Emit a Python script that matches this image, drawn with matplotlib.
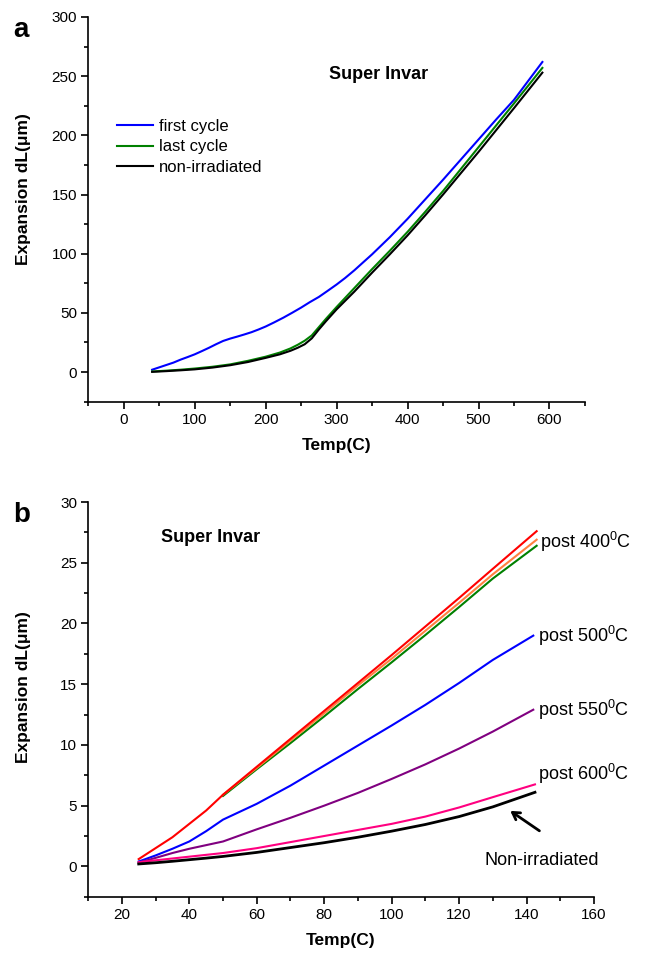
import matplotlib
matplotlib.use("Agg")
import matplotlib.pyplot as plt
from matplotlib.ticker import MultipleLocator

plt.rcParams['font.family'] = ['Liberation Sans', 'DejaVu Sans']
plt.rcParams['mathtext.fontset'] = 'custom'
plt.rcParams['mathtext.rm'] = 'Liberation Sans'

# ---- panel a : dilatometry, first / last cycle ----
temp_first = [40, 50, 60, 70, 80, 90, 100, 110, 120, 130, 140, 150, 160, 170, 180,
              190, 200, 212, 225, 237, 250, 262, 275, 287, 300, 312, 325, 337, 350,
              375, 400, 425, 450, 475, 500, 525, 550, 570, 590]
dl_first = [2, 4, 6, 8, 10.5, 12.7, 15, 17.7, 20.5, 23.5, 26.3, 28.3, 30, 31.8, 33.7,
            36, 38.5, 42, 46, 50, 54.5, 59, 63.5, 68.5, 74, 79.5, 86, 92.5, 99.5,
            114, 129.5, 146, 162.5, 179.5, 196.5, 213.5, 230, 246, 262]

temp_cyc = [40, 60, 80, 100, 125, 150, 175, 200, 220, 235, 245, 255, 265, 275, 285,
            300, 325, 350, 375, 400, 425, 450, 475, 500, 525, 550, 570, 590]
dl_last = [0.5, 1.2, 2.0, 3.0, 4.5, 6.5, 9.5, 13, 16.5, 20, 23, 26.5, 31, 38, 45,
           55, 71, 87, 102.5, 118.5, 135.5, 153, 171.5, 190, 208.5, 227, 242, 257]
dl_nonirr_a = [0.2, 0.8, 1.5, 2.3, 3.8, 5.8, 8.5, 12, 15, 18, 20.5, 23.5, 28.5, 36, 43,
               53, 68, 84, 99.5, 115.5, 132.5, 150, 168, 186, 204.5, 223, 238, 253]

# ---- panel b : post anneal curves ----
temp_b = [25, 30, 35, 40, 45, 50, 60, 70, 80, 90, 100, 110, 120, 130, 143]
dl_400_red = [0.6, 1.5, 2.4, 3.5, 4.6, 5.9, 8.2, 10.5, 12.8, 15.1, 17.4, 19.75, 22.1, 24.5, 27.6]
temp_b2 = [50, 60, 70, 80, 90, 100, 110, 120, 130, 143]
dl_400_orange = [5.9, 8.1, 10.35, 12.6, 14.9, 17.1, 19.4, 21.7, 24.05, 26.9]
dl_400_green = [5.8, 8.0, 10.15, 12.35, 14.6, 16.8, 19.05, 21.35, 23.7, 26.4]

temp_b3 = [25, 30, 35, 40, 45, 50, 55, 60, 70, 80, 90, 100, 110, 120, 130, 142]
dl_500 = [0.4, 0.9, 1.45, 2.05, 2.9, 3.85, 4.5, 5.15, 6.65, 8.3, 9.95, 11.6, 13.3, 15.1, 17.0, 19.0]
dl_550 = [0.3, 0.7, 1.1, 1.45, 1.75, 2.05, 2.55, 3.05, 4.0, 5.0, 6.05, 7.2, 8.4, 9.7, 11.1, 12.9]

temp_b4 = [25, 30, 35, 40, 45, 50, 60, 70, 80, 90, 100, 110, 120, 130, 142.5]
dl_600 = [0.35, 0.5, 0.65, 0.8, 0.95, 1.1, 1.5, 2.0, 2.5, 3.0, 3.5, 4.1, 4.85, 5.7, 6.75]
dl_nonirr_b = [0.2, 0.3, 0.42, 0.55, 0.68, 0.82, 1.15, 1.55, 1.95, 2.4, 2.9, 3.45, 4.1, 4.9, 6.1]


def style_axes(ax):
    ax.spines['top'].set_visible(False)
    ax.spines['right'].set_visible(False)
    for s in ['left', 'bottom']:
        ax.spines[s].set_linewidth(1.2)
    ax.tick_params(which='major', direction='out', length=5, width=1.2, labelsize=11, pad=3)
    ax.tick_params(which='minor', direction='out', length=3, width=1.2)


fig = plt.figure(figsize=(6.45, 9.55), dpi=100)
ax1 = fig.add_axes([0.1369, 0.5794, 0.770, 0.4028])
ax2 = fig.add_axes([0.1366, 0.0610, 0.7843, 0.4133])

lw = 1.5
ax1.plot(temp_first, dl_first, color='#0000ff', lw=lw, label='first cycle')
ax1.plot(temp_cyc, dl_last, color='#008000', lw=lw, label='last cycle')
ax1.plot(temp_cyc, dl_nonirr_a, color='black', lw=lw, label='non-irradiated')
ax1.set_xlim(-50, 650)
ax1.set_ylim(-25, 300)
ax1.xaxis.set_major_locator(MultipleLocator(100))
ax1.xaxis.set_minor_locator(MultipleLocator(50))
ax1.yaxis.set_major_locator(MultipleLocator(50))
ax1.yaxis.set_minor_locator(MultipleLocator(25))
ax1.set_yticks([0, 50, 100, 150, 200, 250, 300])
style_axes(ax1)
ax1.set_xlabel('Temp(C)', fontsize=12.5, fontweight='bold', labelpad=8)
ax1.set_ylabel('Expansion dL(\u03bcm)', fontsize=12.5, fontweight='bold')
ax1.yaxis.set_label_coords(-0.115, 0.553)
ax1.text(359, 251, 'Super Invar', fontsize=13, fontweight='bold', ha='center', va='center')
ax1.legend(loc='upper left', bbox_to_anchor=(0.058, 0.735), frameon=False, fontsize=12,
           borderpad=0, borderaxespad=0, handlelength=2.15, handletextpad=0.35,
           labelspacing=0.33)
fig.text(0.02, 0.982, 'a', fontsize=20, fontweight='bold', va='top', ha='left')

# panel b
ax2.plot(temp_b2, dl_400_green, color='#008000', lw=lw)
ax2.plot(temp_b2, dl_400_orange, color='#ff8040', lw=lw)
ax2.plot(temp_b, dl_400_red, color='#ff0000', lw=lw)
ax2.plot(temp_b3, dl_500, color='#0000ff', lw=lw)
ax2.plot(temp_b3, dl_550, color='#800080', lw=lw)
ax2.plot(temp_b4, dl_600, color='#ff0080', lw=lw)
ax2.plot(temp_b4, dl_nonirr_b, color='black', lw=2.0)
ax2.set_xlim(10, 160)
ax2.set_ylim(-2.5, 30)
ax2.xaxis.set_major_locator(MultipleLocator(20))
ax2.xaxis.set_minor_locator(MultipleLocator(10))
ax2.yaxis.set_major_locator(MultipleLocator(5))
ax2.yaxis.set_minor_locator(MultipleLocator(2.5))
ax2.set_xticks([20, 40, 60, 80, 100, 120, 140, 160])
ax2.set_yticks([0, 5, 10, 15, 20, 25, 30])
style_axes(ax2)
ax2.set_xlabel('Temp(C)', fontsize=12.5, fontweight='bold', labelpad=8)
ax2.set_ylabel('Expansion dL(\u03bcm)', fontsize=12.5, fontweight='bold')
ax2.yaxis.set_label_coords(-0.113, 0.53)
ax2.text(46.3, 27.1, 'Super Invar', fontsize=13, fontweight='bold', ha='center', va='center')

post_fs = 13
ax2.text(144, 26.7, 'post 400$^{\\mathregular{0}}$C', fontsize=post_fs, ha='left', va='center')
ax2.text(143.5, 18.95, 'post 500$^{\\mathregular{0}}$C', fontsize=post_fs, ha='left', va='center')
ax2.text(143.5, 12.9, 'post 550$^{\\mathregular{0}}$C', fontsize=post_fs, ha='left', va='center')
ax2.text(143.5, 7.6, 'post 600$^{\\mathregular{0}}$C', fontsize=post_fs, ha='left', va='center')
ax2.text(144.5, 0.47, 'Non-irradiated', fontsize=post_fs, ha='center', va='center')
ax2.annotate('', xy=(134.5, 4.7), xytext=(144.5, 2.8),
             arrowprops=dict(arrowstyle='->,head_length=0.5,head_width=0.3', lw=2, color='black'))
fig.text(0.02, 0.474, 'b', fontsize=20, fontweight='bold', va='top', ha='left')

fig.savefig('out.png', dpi=100)
